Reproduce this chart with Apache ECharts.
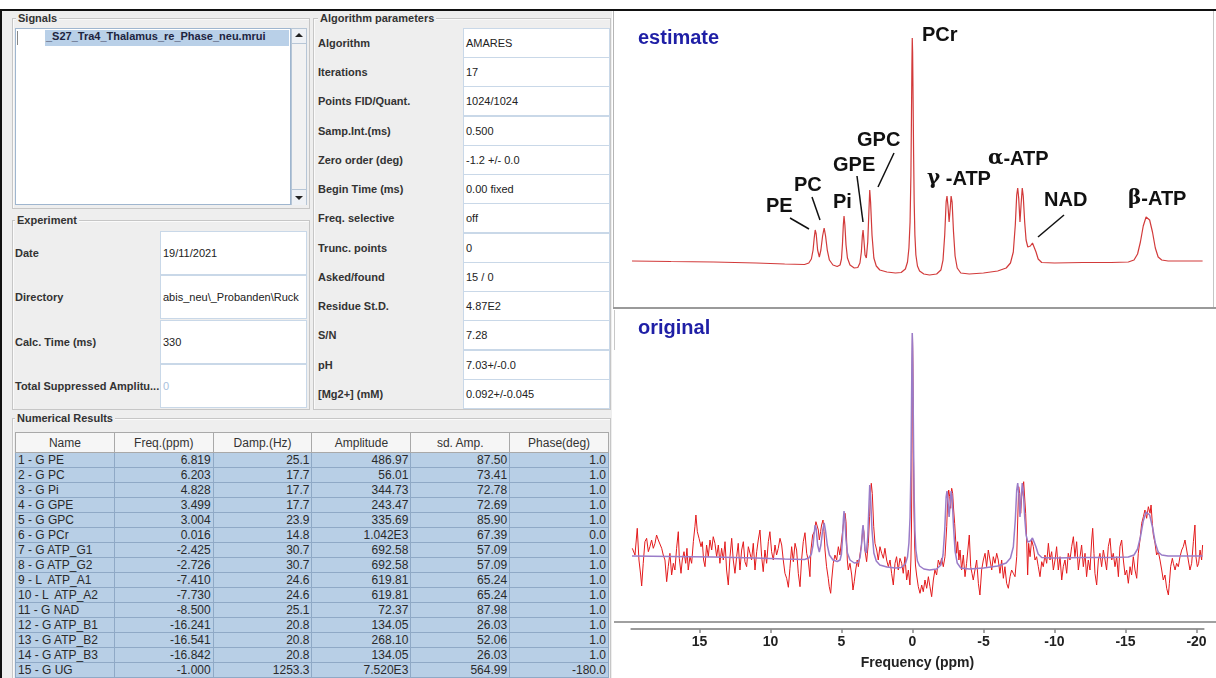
<!DOCTYPE html>
<html>
<head>
<meta charset="utf-8">
<script src="https://cdn.jsdelivr.net/npm/echarts@6/dist/echarts.min.js"></script>
<style>
  body{margin:0;width:1216px;height:678px;position:relative;background:#fff;overflow:hidden;font-family:'Liberation Sans',Arial,sans-serif;}
  .a{position:absolute;}
  .grp{position:absolute;border:1px solid #c6c6c6;box-sizing:border-box;box-shadow:inset 1px 1px 0 #fafafa;}
  .gt{position:absolute;font:bold 11px 'Liberation Sans',Arial,sans-serif;color:#333;background:#eeeeee;padding:0 2px;line-height:12px;}
  .fld{position:absolute;background:#fff;border:1px solid #c9d8e8;box-sizing:border-box;font:11px 'Liberation Sans',Arial,sans-serif;color:#222;padding-left:2px;display:flex;align-items:center;overflow:hidden;white-space:nowrap;}
  .lbl{position:absolute;font:bold 11px 'Liberation Sans',Arial,sans-serif;color:#333;transform:translateY(-50%);white-space:nowrap;}
  table{border-collapse:collapse;table-layout:fixed;font:12px 'Liberation Sans',Arial,sans-serif;}
  th{height:19px;padding:0;background:#f6f6f6;border:1px solid #a9a9a9;font-weight:normal;color:#333;text-align:center;}
  td{height:14px;line-height:13px;padding:0 2px;background:#b8cfe6;border:1px solid #8fa9c6;color:#2a2a2a;white-space:pre;overflow:hidden;}
  td.n{text-align:right;}
</style>
</head>
<body>
<div class="a" style="left:2px;top:11px;width:610px;height:667px;background:#eeeeee;"></div>
<div class="a" style="left:0;top:9px;width:1216px;height:2px;background:#111;z-index:5;"></div>
<div class="a" style="left:0;top:9px;width:2px;height:669px;background:#111;z-index:5;"></div>
<div id="ui"></div>
<div id="chart" class="a" style="left:612px;top:0;width:604px;height:678px;"></div>
<div class="a" style="left:613px;top:11px;width:1px;height:297px;background:#b5b5b5;z-index:4;"></div>
<div class="a" style="left:1213px;top:11px;width:1px;height:297px;background:#c5c5c5;z-index:4;"></div>
<div class="a" style="left:613px;top:307px;width:603px;height:2px;background:#9a9a9a;z-index:4;"></div>
<div class="a" style="left:614px;top:310px;width:1px;height:40px;background:#c8c8c8;z-index:4;"></div>
<div class="a" style="left:614px;top:621px;width:602px;height:2px;background:#a0a0a0;z-index:4;"></div>
<script>
// ---------------- data ----------------
const signalFile = '_S27_Tra4_Thalamus_re_Phase_neu.mrui';
const experimentLabels = ['Date', 'Directory', 'Calc. Time (ms)', 'Total Suppressed Amplitu...'];
const experimentValues = ['19/11/2021', 'abis_neu\\_Probanden\\Ruck', '330', '0'];
const algorithmLabels = ['Algorithm', 'Iterations', 'Points FID/Quant.', 'Samp.Int.(ms)', 'Zero order (deg)', 'Begin Time (ms)', 'Freq. selective', 'Trunc. points', 'Asked/found', 'Residue St.D.', 'S/N', 'pH', '[Mg2+] (mM)'];
const algorithmValues = ['AMARES', '17', '1024/1024', '0.500', '-1.2 +/- 0.0', '0.00 fixed', 'off', '0', '15 / 0', '4.87E2', '7.28', '7.03+/-0.0', '0.092+/-0.045'];
const resultColumns = ['Name', 'Freq.(ppm)', 'Damp.(Hz)', 'Amplitude', 'sd. Amp.', 'Phase(deg)'];
const resultNames = ['1 - G PE', '2 - G PC', '3 - G Pi', '4 - G GPE', '5 - G GPC', '6 - G PCr', '7 - G ATP_G1', '8 - G ATP_G2', '9 - L  ATP_A1', '10 - L  ATP_A2', '11 - G NAD', '12 - G ATP_B1', '13 - G ATP_B2', '14 - G ATP_B3', '15 - G UG'];
const resultFreq = ['6.819', '6.203', '4.828', '3.499', '3.004', '0.016', '-2.425', '-2.726', '-7.410', '-7.730', '-8.500', '-16.241', '-16.541', '-16.842', '-1.000'];
const resultDamp = ['25.1', '17.7', '17.7', '17.7', '23.9', '14.8', '30.7', '30.7', '24.6', '24.6', '25.1', '20.8', '20.8', '20.8', '1253.3'];
const resultAmp = ['486.97', '56.01', '344.73', '243.47', '335.69', '1.042E3', '692.58', '692.58', '619.81', '619.81', '72.37', '134.05', '268.10', '134.05', '7.520E3'];
const resultSdAmp = ['87.50', '73.41', '72.78', '72.69', '85.90', '67.39', '57.09', '57.09', '65.24', '65.24', '87.98', '26.03', '52.06', '26.03', '564.99'];
const resultPhase = ['1.0', '1.0', '1.0', '1.0', '1.0', '0.0', '1.0', '1.0', '1.0', '1.0', '1.0', '1.0', '1.0', '1.0', '-180.0'];

const freqTicks = [15, 10, 5, 0, -5, -10, -15, -20];
const peakLabels = ['PE', 'PC', 'Pi', 'GPE', 'GPC', 'PCr', 'γ -ATP', 'α-ATP', 'NAD', 'β-ATP'];

// fitted spectrum [ppm, intensity]
const estimateCurve = [[19.75,19],[17,18.5],[14,18],[11,17],[9,16],[7.6,15.5],[7.3,17],[7.12,21],[7.0,30],[6.92,42],[6.85,50],[6.78,46],[6.68,30],[6.56,23],[6.45,30],[6.33,44],[6.22,52],[6.12,44],[6.0,30],[5.85,20],[5.6,15],[5.3,13.5],[5.1,15],[5.0,21],[4.93,36],[4.87,55],[4.82,64],[4.76,55],[4.68,35],[4.58,22],[4.4,15],[4.1,12],[3.85,12.5],[3.7,17],[3.6,28],[3.53,44],[3.48,50],[3.42,40],[3.34,25],[3.25,22],[3.15,38],[3.07,68],[3.01,90],[2.95,78],[2.85,45],[2.72,22],[2.55,14],[2.3,10],[1.8,8],[1.2,7],[0.8,7.5],[0.5,11],[0.35,18],[0.25,32],[0.17,58],[0.11,105],[0.07,165],[0.04,215],[0.016,242],[-0.01,228],[-0.04,185],[-0.08,125],[-0.12,78],[-0.17,45],[-0.24,25],[-0.35,14],[-0.5,9],[-0.8,6],[-1.2,5],[-1.7,6],[-2.0,10],[-2.15,20],[-2.27,45],[-2.37,78],[-2.43,84],[-2.5,74],[-2.58,58],[-2.66,72],[-2.72,84],[-2.79,78],[-2.89,48],[-3.0,24],[-3.15,12],[-3.4,7],[-4.0,6],[-5.0,7],[-6.0,9],[-6.6,12],[-6.9,17],[-7.1,28],[-7.24,55],[-7.34,85],[-7.41,92],[-7.48,82],[-7.57,58],[-7.65,76],[-7.73,92],[-7.8,84],[-7.9,58],[-8.0,40],[-8.12,33],[-8.3,34],[-8.45,37],[-8.56,36],[-8.7,28],[-8.85,21],[-9.1,17.5],[-10,17],[-12,17.5],[-14,17.5],[-15.2,18],[-15.6,20],[-15.85,26],[-16.05,38],[-16.25,54],[-16.45,63],[-16.55,64],[-16.7,60],[-16.9,48],[-17.1,32],[-17.3,23],[-17.55,20],[-18,19],[-20.43,19]];

// measured spectrum [ppm, intensity]
const originalSignal = [[19.73,26.7],[19.54,20],[19.38,46.7],[19.26,15],[19.14,0],[19.07,-11],[18.96,11.7],[18.84,33.3],[18.72,36.7],[18.60,23.3],[18.49,28.3],[18.37,35],[18.25,26.7],[18.13,31.7],[18.02,40],[17.90,35],[17.78,36.7],[17.66,26.7],[17.55,20],[17.43,15],[17.31,-6.7],[17.20,8.3],[17.08,21.7],[16.96,0],[16.84,11.7],[16.73,5],[16.61,26.7],[16.49,43.3],[16.42,16.7],[16.30,1.7],[16.21,15],[16.09,23.3],[15.97,11.7],[15.88,26.7],[15.79,5],[15.67,18.3],[15.55,11.7],[15.43,33.3],[15.32,48.3],[15.25,60],[15.15,43.3],[15.03,36.7],[14.89,28.3],[14.80,33.3],[14.71,15],[14.61,8.3],[14.50,30],[14.38,18.3],[14.26,35],[14.14,25],[14.03,38.3],[13.91,31.7],[13.79,18.3],[13.67,30],[13.56,11.7],[13.44,26.7],[13.32,15],[13.20,33.3],[13.09,5],[12.97,-10],[12.85,18.3],[12.73,36.7],[12.62,15],[12.50,1.7],[12.38,18.3],[12.27,31.7],[12.15,5],[12.03,25],[11.91,33.3],[11.80,13.3],[11.68,8.3],[11.56,28.3],[11.44,21.7],[11.33,15],[11.21,31.7],[11.09,5],[10.97,23.3],[10.86,35],[10.74,45],[10.62,18.3],[10.51,3.3],[10.39,25],[10.27,11.7],[10.15,33.3],[10.04,43.3],[9.92,23.3],[9.80,15],[9.68,30],[9.57,20],[9.45,26.7],[9.33,36.7],[9.21,30],[9.10,15],[8.98,1.7],[8.86,-3.3],[8.74,-12.3],[8.63,6.7],[8.51,28.3],[8.39,13.3],[8.27,31.7],[8.16,25],[8.04,1.7],[7.92,-11.7],[7.81,15],[7.69,33.3],[7.57,42.3],[7.45,21.7],[7.34,15],[7.22,-1.7],[7.15,25],[7.03,40],[6.91,43.3],[6.80,53.3],[6.70,55],[6.63,45],[6.56,35],[6.47,43.3],[6.40,50],[6.30,55],[6.23,43.3],[6.16,25],[6.05,8.3],[5.93,-3.3],[5.86,-11.7],[5.76,-18.3],[5.69,-5],[5.58,11.7],[5.46,20],[5.34,15],[5.22,28.3],[5.11,20],[4.99,35],[4.87,50],[4.75,61.7],[4.68,53.3],[4.59,15],[4.52,5],[4.40,11.7],[4.28,0],[4.19,-15],[4.10,-6.7],[4.00,5],[3.89,15],[3.81,8.3],[3.70,20],[3.58,31.7],[3.48,48.3],[3.42,43.3],[3.35,25],[3.23,13.3],[3.11,31.7],[3.02,58.3],[2.95,81.7],[2.90,91.7],[2.83,81.7],[2.73,48.3],[2.64,31.7],[2.52,25],[2.41,15],[2.29,28.3],[2.17,21.7],[2.05,16.7],[1.94,26.7],[1.82,15],[1.70,8.3],[1.58,15],[1.47,1.7],[1.35,-10],[1.23,11.7],[1.12,18.3],[1.00,5],[0.88,16.7],[0.76,11.7],[0.65,1.7],[0.53,18.3],[0.41,-5],[0.29,5],[0.18,-10],[0.11,15],[0.07,48],[0.04,110],[0.02,200],[0.0,242],[-0.03,210],[-0.06,140],[-0.1,70],[-0.15,30],[-0.21,10],[-0.29,0],[-0.41,-11.7],[-0.53,-18.3],[-0.65,-10],[-0.76,-16.7],[-0.88,-5],[-1.00,-13.3],[-1.12,-1.7],[-1.23,-11.7],[-1.35,-21.7],[-1.47,-5],[-1.58,5],[-1.70,0],[-1.82,15],[-1.94,10],[-2.05,16.7],[-2.17,8.3],[-2.29,18.3],[-2.41,48.3],[-2.48,75],[-2.55,85],[-2.62,78.3],[-2.69,66.7],[-2.76,86.7],[-2.83,81.7],[-2.90,65],[-2.97,51.7],[-3.04,35],[-3.11,21.7],[-3.18,33.3],[-3.27,15],[-3.35,25],[-3.46,5],[-3.58,20],[-3.70,-1.7],[-3.81,11.7],[-4.00,40],[-4.10,8.3],[-4.19,1.7],[-4.28,-5],[-4.40,5],[-4.52,15],[-4.64,-8.3],[-4.75,-20],[-4.87,5],[-4.99,15],[-5.11,21.7],[-5.22,8.3],[-5.34,25],[-5.46,15],[-5.58,5],[-5.69,18.3],[-5.81,11.7],[-5.93,21.7],[-6.04,15],[-6.16,1.7],[-6.28,15],[-6.40,-3.3],[-6.51,8.3],[-6.63,-8.3],[-6.75,-13.3],[-6.87,-1.7],[-6.98,5],[-7.10,1.7],[-7.22,-1.7],[-7.34,18.3],[-7.41,55],[-7.48,88.3],[-7.55,81.7],[-7.62,61.7],[-7.69,78.3],[-7.76,85],[-7.83,93.3],[-7.90,91.7],[-7.97,61.7],[-8.04,35],[-8.11,0],[-8.18,31.7],[-8.28,18.3],[-8.39,35],[-8.51,28.3],[-8.63,15],[-8.74,18.3],[-8.86,8.3],[-8.98,-1.7],[-9.10,13.3],[-9.21,8.3],[-9.33,20],[-9.45,11.7],[-9.57,31.7],[-9.68,15],[-9.80,23.3],[-9.92,5],[-10.04,15],[-10.15,28.3],[-10.27,5],[-10.39,18.3],[-10.51,-5],[-10.62,8.3],[-10.74,15],[-10.86,1.7],[-10.97,21.7],[-11.09,15],[-11.21,28.3],[-11.33,38.3],[-11.44,18.3],[-11.56,33.3],[-11.68,5],[-11.80,18.3],[-11.91,30],[-12.03,8.3],[-12.15,21.7],[-12.26,-1.7],[-12.38,15],[-12.50,5],[-12.62,35],[-12.69,46.7],[-12.78,21.7],[-12.85,1.7],[-12.97,-10],[-13.09,15],[-13.20,21.7],[-13.32,8.3],[-13.44,25],[-13.56,15],[-13.67,5],[-13.79,28.3],[-13.91,36.7],[-14.03,15],[-14.14,21.7],[-14.26,8.3],[-14.38,18.3],[-14.50,-1.7],[-14.61,28.3],[-14.73,35],[-14.85,15],[-14.97,0],[-15.08,5],[-15.20,-8.3],[-15.32,8.3],[-15.43,0],[-15.55,18.3],[-15.67,5],[-15.79,-3.3],[-15.90,21.7],[-16.02,35],[-16.14,51.7],[-16.26,58.3],[-16.37,65],[-16.49,56.7],[-16.61,68.3],[-16.73,61.7],[-16.80,70],[-16.89,51.7],[-16.96,40],[-17.08,31.7],[-17.19,20],[-17.31,23.3],[-17.43,15],[-17.55,5],[-17.66,-5],[-17.78,0],[-17.90,-13.3],[-18.02,-20],[-18.09,-8.3],[-18.18,8.3],[-18.30,16.7],[-18.37,11.7],[-18.49,5],[-18.60,11.7],[-18.72,8.3],[-18.84,18.3],[-18.96,25],[-19.07,28.3],[-19.19,35],[-19.31,25],[-19.42,15],[-19.54,5],[-19.66,11.7],[-19.78,33.3],[-19.89,50],[-19.96,18.3],[-20.06,8.3],[-20.15,11.7],[-20.25,25],[-20.36,15],[-20.43,30]];

// ---------------- left UI panel ----------------
(function buildUI(){
  let h = '';
  // Signals
  h += '<div class="grp" style="left:12px;top:18px;width:298px;height:191px;"></div>';
  h += '<div class="gt" style="left:16px;top:12px;">Signals</div>';
  h += '<div class="a" style="left:15px;top:28px;width:276px;height:177px;background:#fff;border:1px solid #9fb6cf;box-sizing:border-box;"></div>';
  h += '<div class="a" style="left:45px;top:30px;width:244px;height:16px;background:#b9d0e8;"></div>';
  h += '<div class="a" style="left:17px;top:31px;width:1px;height:14px;background:#888;"></div>';
  h += '<div class="a" style="left:46px;top:30px;height:16px;line-height:16px;font:bold 11px \'Liberation Sans\',Arial;color:#1d2440;">' + signalFile + '</div>';
  h += '<div class="a" style="left:291px;top:28px;width:16px;height:177px;background:#f2f2f2;border:1px solid #b7c6d6;box-sizing:border-box;"></div>';
  h += '<div class="a" style="left:292px;top:29px;width:14px;height:14px;background:#eef1f5;border-bottom:1px solid #b7c6d6;"></div>';
  h += '<div class="a" style="left:292px;top:189px;width:14px;height:15px;background:#eef1f5;border-top:1px solid #b7c6d6;"></div>';
  h += '<div class="a" style="left:295px;top:33px;width:0;height:0;border-left:4px solid transparent;border-right:4px solid transparent;border-bottom:4px solid #222;"></div>';
  h += '<div class="a" style="left:295px;top:196px;width:0;height:0;border-left:4px solid transparent;border-right:4px solid transparent;border-top:4px solid #222;"></div>';
  // Experiment
  h += '<div class="grp" style="left:12px;top:220px;width:298px;height:190px;"></div>';
  h += '<div class="gt" style="left:15px;top:214px;">Experiment</div>';
  experimentLabels.forEach((lab, i) => {
    const top = 231 + i * 44.3;
    h += '<div class="fld" style="left:160px;top:' + top + 'px;width:147px;height:44px;' + (i === 3 ? 'color:#a9c1dd;' : '') + '">' + experimentValues[i] + '</div>';
    h += '<div class="lbl" style="left:15px;top:' + (top + 22) + 'px;">' + lab + '</div>';
  });
  // Algorithm parameters
  h += '<div class="grp" style="left:313px;top:18px;width:298px;height:392px;"></div>';
  h += '<div class="gt" style="left:318px;top:12px;">Algorithm parameters</div>';
  algorithmLabels.forEach((lab, i) => {
    const top = 28 + i * 29.23;
    h += '<div class="fld" style="left:463px;top:' + top + 'px;width:147px;height:30px;">' + algorithmValues[i] + '</div>';
    h += '<div class="lbl" style="left:318px;top:' + (top + 15) + 'px;">' + lab + '</div>';
  });
  // Numerical results
  h += '<div class="grp" style="left:12px;top:418px;width:599px;height:262px;"></div>';
  h += '<div class="gt" style="left:15px;top:412px;">Numerical Results</div>';
  let t = '<table class="a" style="left:15px;top:432px;width:594px;"><tr>';
  resultColumns.forEach(c => { t += '<th>' + c + '</th>'; });
  t += '</tr>';
  resultNames.forEach((n, i) => {
    t += '<tr><td>' + n + '</td><td class="n">' + resultFreq[i] + '</td><td class="n">' + resultDamp[i] + '</td><td class="n">' + resultAmp[i] + '</td><td class="n">' + resultSdAmp[i] + '</td><td class="n">' + resultPhase[i] + '</td></tr>';
  });
  t += '</table>';
  h += t;
  document.getElementById('ui').innerHTML = h;
})();

// ---------------- spectra ----------------
const chart = echarts.init(document.getElementById('chart'), null, {renderer: 'canvas'});
const labelFont = 'bold 20px "Liberation Sans", Arial, sans-serif';
const greek = {g: {fontFamily: '"DejaVu Serif", serif', fontSize: 20, fontWeight: 'bold', fill: '#111'}};
function txt(x, y, text, extra) {
  return Object.assign({type: 'text', x: x, y: y, silent: true,
    style: {text: text, font: labelFont, fill: '#111', verticalAlign: 'middle', align: 'left'}}, extra || {});
}
function ln(x1, y1, x2, y2) {
  return {type: 'line', silent: true, shape: {x1: x1, y1: y1, x2: x2, y2: y2}, style: {stroke: '#111', lineWidth: 1.5}};
}
const graphics = [
  {type: 'text', x: 26, y: 38, silent: true, style: {text: 'estimate', font: 'bold 20px "Liberation Sans", Arial', fill: '#1f1fa6', verticalAlign: 'middle'}},
  {type: 'text', x: 26, y: 328, silent: true, style: {text: 'original', font: 'bold 20px "Liberation Sans", Arial', fill: '#1f1fa6', verticalAlign: 'middle'}},
  txt(154, 206, peakLabels[0]),
  txt(182, 185, peakLabels[1]),
  txt(221, 202, peakLabels[2]),
  txt(221, 165, peakLabels[3]),
  txt(245, 140, peakLabels[4]),
  txt(310, 35, peakLabels[5]),
  {type: 'text', x: 315, y: 179, silent: true, style: {text: '{g|γ} -ATP', font: labelFont, fill: '#111', verticalAlign: 'middle', rich: greek}},
  {type: 'text', x: 376, y: 159, silent: true, style: {text: '{g|α}-ATP', font: labelFont, fill: '#111', verticalAlign: 'middle', rich: greek}},
  txt(432, 200, peakLabels[8]),
  {type: 'text', x: 516, y: 199, silent: true, style: {text: '{g|β}-ATP', font: labelFont, fill: '#111', verticalAlign: 'middle', rich: greek}},
  ln(178, 218, 197, 229),
  ln(200, 197, 208, 220),
  ln(245, 176, 251, 222),
  ln(282, 153, 266, 187),
  ln(452, 215, 426, 237)
];

const option = {
  animation: false,
  grid: [
    {left: 19.3, width: 572.3, top: 30, height: 270},
    {left: 19.3, width: 572.3, top: 325, height: 275}
  ],
  xAxis: [
    {gridIndex: 0, type: 'value', min: -20.5, max: 19.8, inverse: true, show: false, splitLine: {show: false}},
    {gridIndex: 1, type: 'value', min: -20.5, max: 19.8, inverse: true, position: 'bottom', offset: 29,
      splitLine: {show: false},
      axisLine: {show: true, onZero: false, lineStyle: {color: '#9a9a9a', width: 2}},
      axisTick: {show: true, customValues: freqTicks, length: 4, lineStyle: {color: '#8a8a8a', width: 1.5}},
      axisLabel: {show: true, customValues: freqTicks, fontSize: 14, fontWeight: 'bold', color: '#222', margin: 6, fontFamily: '"Liberation Sans", Arial'},
      name: 'Frequency (ppm)', nameLocation: 'middle', nameGap: 27,
      nameTextStyle: {fontSize: 14, fontWeight: 'bold', color: '#222', fontFamily: '"Liberation Sans", Arial'}
    }
  ],
  yAxis: [
    {gridIndex: 0, type: 'value', min: -20, max: 250, show: false, splitLine: {show: false}},
    {gridIndex: 1, type: 'value', min: -25, max: 250, show: false, splitLine: {show: false}}
  ],
  series: [
    {type: 'line', name: 'estimate', xAxisIndex: 0, yAxisIndex: 0, data: estimateCurve, showSymbol: false, symbol: 'none',
      lineStyle: {color: '#d23a3a', width: 1.2}, clip: false},
    {type: 'line', name: 'original', xAxisIndex: 1, yAxisIndex: 1, data: originalSignal, showSymbol: false, symbol: 'none',
      lineStyle: {color: '#e31a1c', width: 1}, clip: false},
    {type: 'line', name: 'fit', xAxisIndex: 1, yAxisIndex: 1, data: estimateCurve, showSymbol: false, symbol: 'none',
      lineStyle: {color: '#9a7cc8', width: 1.5}, clip: false}
  ],
  graphic: graphics
};
chart.setOption(option);
</script>
</body>
</html>
